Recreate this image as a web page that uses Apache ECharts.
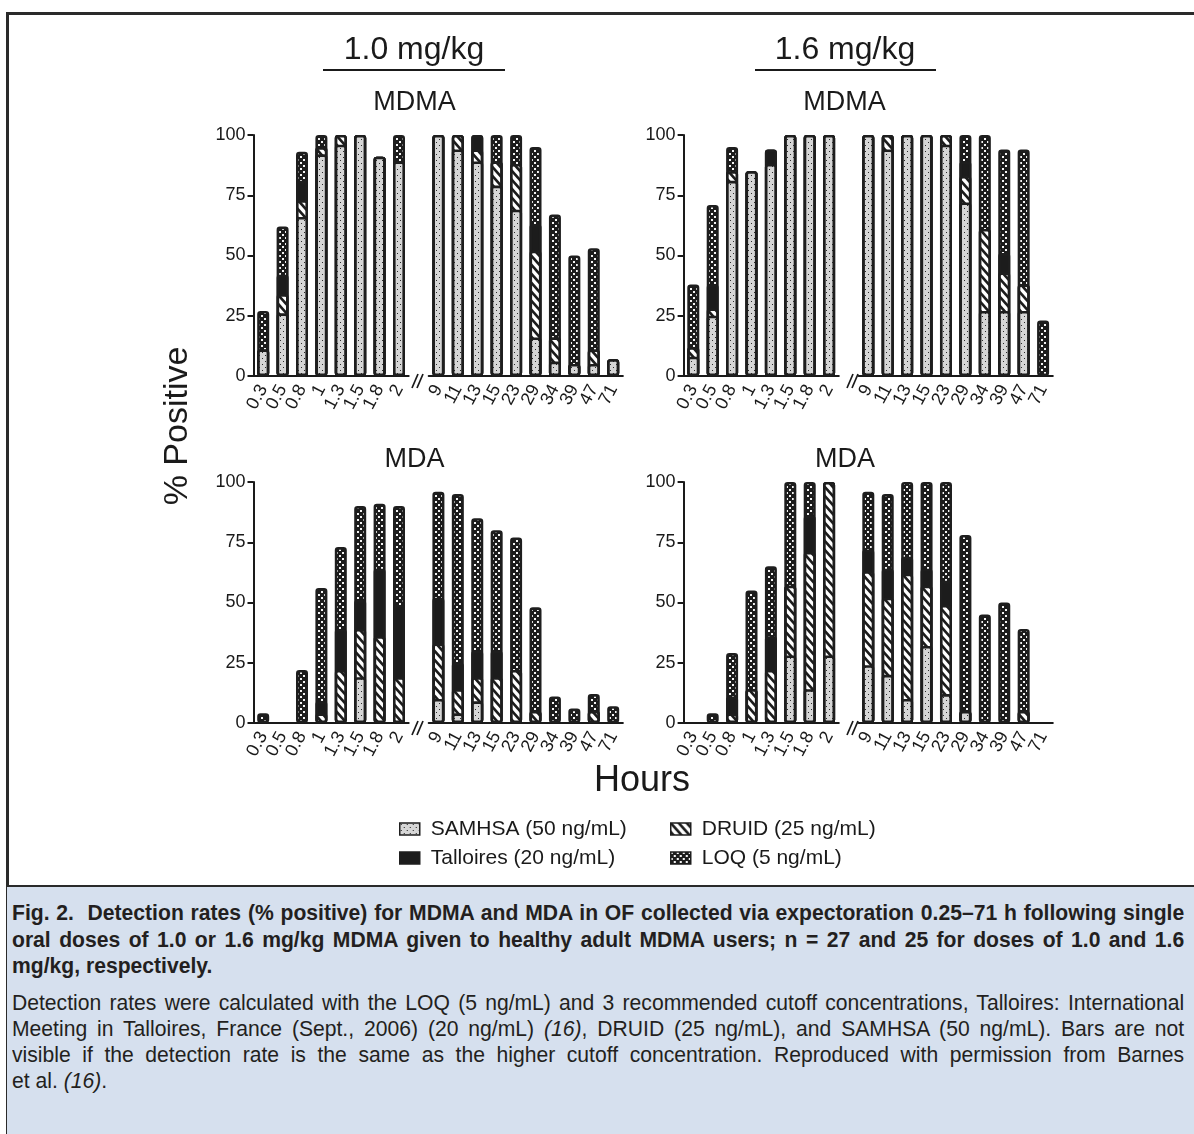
<!DOCTYPE html>
<html>
<head>
<meta charset="utf-8">
<script src="https://cdn.jsdelivr.net/npm/echarts@6/dist/echarts.min.js"></script>
<style>
body{margin:0;background:#fff;}
#wrap{position:relative;width:1194px;height:1134px;overflow:hidden;background:#fff;}
#chart{position:absolute;left:0;top:0;width:1194px;height:886px;}
.fr{position:absolute;background:#2a2a2a;}
#cap{position:absolute;left:7px;top:887px;width:1187px;height:247px;background:#d6e0ee;color:#231f20;
  font-family:"Liberation Sans",Arial,sans-serif;}
.ln{position:absolute;left:5px;white-space:nowrap;height:26px;line-height:26px;width:1221px;transform:scaleX(0.96);transform-origin:0 0;}
.j{text-align:justify;text-align-last:justify;}
.b{font-weight:bold;font-size:22px;}
.r{font-size:22px;}
</style>
</head>
<body>
<div id="wrap">
  <div id="chart"></div>
  <div class="fr" style="left:6px;top:12px;width:1188px;height:2.5px;"></div>
  <div class="fr" style="left:6px;top:12px;width:2.5px;height:1122px;"></div>
  <div class="fr" style="left:6px;top:885px;width:1188px;height:2px;"></div>
  <div id="cap">
    <div class="ln j b" style="top:13px">Fig. 2.&nbsp; Detection rates (% positive) for MDMA and MDA in OF collected via expectoration 0.25–71 h following single</div>
    <div class="ln j b" style="top:40px">oral doses of 1.0 or 1.6 mg/kg MDMA given to healthy adult MDMA users; n = 27 and 25 for doses of 1.0 and 1.6</div>
    <div class="ln b" style="top:66px">mg/kg, respectively.</div>
    <div class="ln j r" style="top:103px">Detection rates were calculated with the LOQ (5 ng/mL) and 3 recommended cutoff concentrations, Talloires: International</div>
    <div class="ln j r" style="top:129px">Meeting in Talloires, France (Sept., 2006) (20 ng/mL) <i>(16)</i>, DRUID (25 ng/mL), and SAMHSA (50 ng/mL). Bars are not</div>
    <div class="ln j r" style="top:155px">visible if the detection rate is the same as the higher cutoff concentration. Reproduced with permission from Barnes</div>
    <div class="ln r" style="top:181px">et al. <i>(16)</i>.</div>
  </div>
</div>
<script>
// sampling times (h): early group, then late group after the axis break
var hoursEarly = ['0.3', '0.5', '0.8', '1', '1.3', '1.5', '1.8', '2'];
var hoursLate = ['9', '11', '13', '15', '23', '29', '34', '39', '47', '71'];
var yTicks = [0, 25, 50, 75, 100];

// % positive at each cutoff, 8 early + 10 late values
// MDMA, 1.0 mg/kg
var mdma10Samhsa    = [11, 26, 66, 92, 96, 100, 91, 89,   100, 94, 89, 79, 69, 16, 6, 5, 5, 7];
var mdma10Druid     = [11, 34, 73, 95, 100, 100, 91, 89,  100, 100, 94, 89, 88, 52, 16, 5, 11, 7];
var mdma10Talloires = [11, 42, 81, 95, 100, 100, 91, 89,  100, 100, 100, 89, 88, 63, 16, 5, 11, 7];
var mdma10Loq       = [27, 62, 93, 100, 100, 100, 91, 100, 100, 100, 100, 100, 100, 95, 67, 50, 53, 7];
// MDMA, 1.6 mg/kg
var mdma16Samhsa    = [8, 25, 81, 85, 88, 100, 100, 100,  100, 94, 100, 100, 96, 72, 27, 27, 27, 0];
var mdma16Druid     = [12, 28, 85, 85, 88, 100, 100, 100, 100, 100, 100, 100, 100, 83, 61, 43, 38, 0];
var mdma16Talloires = [12, 38, 85, 85, 94, 100, 100, 100, 100, 100, 100, 100, 100, 89, 61, 51, 38, 0];
var mdma16Loq       = [38, 71, 95, 85, 94, 100, 100, 100, 100, 100, 100, 100, 100, 100, 100, 94, 94, 23];
// MDA, 1.0 mg/kg
var mda10Samhsa     = [0, 0, 0, 0, 0, 19, 0, 0,           10, 4, 9, 0, 0, 0, 0, 0, 0, 0];
var mda10Druid      = [0, 0, 0, 4, 22, 39, 36, 19,        33, 14, 19, 19, 22, 5, 0, 0, 5, 0];
var mda10Talloires  = [0, 0, 0, 9, 39, 51, 64, 49,        52, 25, 30, 30, 22, 5, 0, 0, 5, 0];
var mda10Loq        = [4, 0, 22, 56, 73, 90, 91, 90,      96, 95, 85, 80, 77, 48, 11, 6, 12, 7];
// MDA, 1.6 mg/kg
var mda16Samhsa     = [0, 0, 0, 0, 0, 28, 14, 28,         24, 20, 10, 32, 12, 5, 0, 0, 0, 0];
var mda16Druid      = [0, 0, 4, 14, 22, 57, 71, 100,      63, 52, 62, 57, 49, 5, 0, 0, 5, 0];
var mda16Talloires  = [0, 0, 11, 14, 36, 57, 86, 100,     72, 64, 69, 64, 59, 5, 0, 0, 5, 0];
var mda16Loq        = [0, 4, 29, 55, 65, 100, 100, 100,   96, 95, 100, 100, 100, 78, 45, 50, 39, 0];

var seriesNames = ['LOQ (5 ng/mL)', 'Talloires (20 ng/mL)', 'DRUID (25 ng/mL)', 'SAMHSA (50 ng/mL)'];

function tile(w, h, draw) {
	var c = document.createElement('canvas');
	c.width = w; c.height = h;
	draw(c.getContext('2d'), w, h);
	return c;
}
var samhsaPat = tile(6, 6, function (g, w, h) {
	g.fillStyle = '#d6d6d6'; g.fillRect(0, 0, w, h);
	g.fillStyle = '#2a2a2a'; g.fillRect(1, 1, 1, 1); g.fillRect(4, 4, 1, 1);
});
var druidPat = tile(8, 9, function (g, w, h) {
	g.fillStyle = '#fff'; g.fillRect(0, 0, w, h);
	g.strokeStyle = '#1c1c1c'; g.lineWidth = 2.6;
	for (var k = -1; k <= 1; k++) {
		g.beginPath(); g.moveTo(k * w - w, -h); g.lineTo(k * w + 2 * w, 2 * h); g.stroke();
	}
});
var loqPat = tile(6, 6, function (g, w, h) {
	g.fillStyle = '#1c1c1c'; g.fillRect(0, 0, w, h);
	g.fillStyle = '#f4f4f4';
	g.fillRect(0, 0, 2, 2); g.fillRect(3, 3, 2, 2);
});
var fills = [{image: loqPat, repeat: 'repeat'}, '#1c1c1c', {image: druidPat, repeat: 'repeat'}, {image: samhsaPat, repeat: 'repeat'}];

var panels = [
	{col: 0, row: 0, data: [mdma10Loq, mdma10Talloires, mdma10Druid, mdma10Samhsa]},
	{col: 1, row: 0, data: [mdma16Loq, mdma16Talloires, mdma16Druid, mdma16Samhsa]},
	{col: 0, row: 1, data: [mda10Loq, mda10Talloires, mda10Druid, mda10Samhsa]},
	{col: 1, row: 1, data: [mda16Loq, mda16Talloires, mda16Druid, mda16Samhsa]}
];

var earlyLeft = [253.5, 683.6], lateLeft = [428.7, 858.6];
var earlyW = 155.2, lateW = 194.2;
var rowTop = [135, 482], rowH = 241;
var ink = '#1a1a1a', font = 'Liberation Sans';

var grids = [], xAxes = [], yAxes = [], series = [];
panels.forEach(function (p) {
	[0, 1].forEach(function (part) {
		var idx = grids.length;
		var cats = part ? hoursLate : hoursEarly;
		grids.push({
			left: part ? lateLeft[p.col] : earlyLeft[p.col],
			top: rowTop[p.row],
			width: part ? lateW : earlyW,
			height: rowH
		});
		xAxes.push({
			type: 'category', gridIndex: idx, data: cats,
			axisLine: {lineStyle: {color: ink, width: 2}},
			axisTick: {alignWithLabel: true, length: 5, lineStyle: {color: ink, width: 2}},
			axisLabel: {interval: 0, rotate: 62, fontSize: 18, color: ink, fontFamily: font, margin: 10}
		});
		yAxes.push({
			type: 'value', gridIndex: idx, show: part === 0,
			min: yTicks[0], max: yTicks[yTicks.length - 1], interval: yTicks[1] - yTicks[0],
			splitLine: {show: false},
			axisLine: {show: true, lineStyle: {color: ink, width: 2}},
			axisTick: {show: true, length: 6, lineStyle: {color: ink, width: 2}},
			axisLabel: {fontSize: 18, color: ink, fontFamily: font, margin: 8}
		});
		p.data.forEach(function (arr, s) {
			var vals = part ? arr.slice(8) : arr.slice(0, 8);
			series.push({
				name: seriesNames[s], type: 'bar',
				xAxisIndex: idx, yAxisIndex: idx,
				barWidth: 12, barGap: '-100%',
				data: vals.map(function (v) { return v === 0 ? '-' : v; }),
				itemStyle: {color: fills[s], borderColor: '#1e1e1e', borderWidth: 2.6, borderRadius: 2}
			});
		});
	});
});

function txt(t, x, y, size, rot) {
	return {type: 'text', x: x, y: y, rotation: rot || 0,
		style: {text: t, font: size + 'px "' + font + '"', fill: ink, textAlign: 'center', textVerticalAlign: 'middle'}};
}
function seg(x1, y1, x2, y2, w) {
	return {type: 'line', shape: {x1: x1, y1: y1, x2: x2, y2: y2}, style: {stroke: ink, lineWidth: w}};
}
var graphic = [
	txt('1.0 mg/kg', 414, 50, 32), seg(323, 70, 505, 70, 2.2),
	txt('1.6 mg/kg', 845, 50, 32), seg(755, 70, 936, 70, 2.2),
	txt('MDMA', 414.5, 103, 27), txt('MDMA', 844.5, 103, 27),
	txt('MDA', 414.5, 460, 27), txt('MDA', 845, 460, 27),
	txt('Hours', 642, 781, 36),
	txt('% Positive', 178, 426, 34, Math.PI / 2)
];
// axis break marks
[[412, 376], [847, 376], [412, 723], [847, 723]].forEach(function (b) {
	graphic.push(seg(b[0], b[1] + 12, b[0] + 6, b[1] - 2, 1.7));
	graphic.push(seg(b[0] + 5, b[1] + 12, b[0] + 11, b[1] - 2, 1.7));
});

var legendBase = {
	orient: 'vertical', icon: 'rect', itemWidth: 20, itemHeight: 12, itemGap: 5,
	selectedMode: false,
	itemStyle: {borderWidth: 1.5},
	textStyle: {fontSize: 21, color: ink, fontFamily: font, lineHeight: 24, padding: [0, 0, 0, 6]}
};

var chart = echarts.init(document.getElementById('chart'));
chart.setOption({
	animation: false,
	grid: grids,
	xAxis: xAxes,
	yAxis: yAxes,
	series: series,
	graphic: graphic,
	legend: [
		Object.assign({}, legendBase, {left: 394, top: 812, data: ['SAMHSA (50 ng/mL)', 'Talloires (20 ng/mL)']}),
		Object.assign({}, legendBase, {left: 665, top: 812, data: ['DRUID (25 ng/mL)', 'LOQ (5 ng/mL)']})
	]
});
</script>
</body>
</html>
